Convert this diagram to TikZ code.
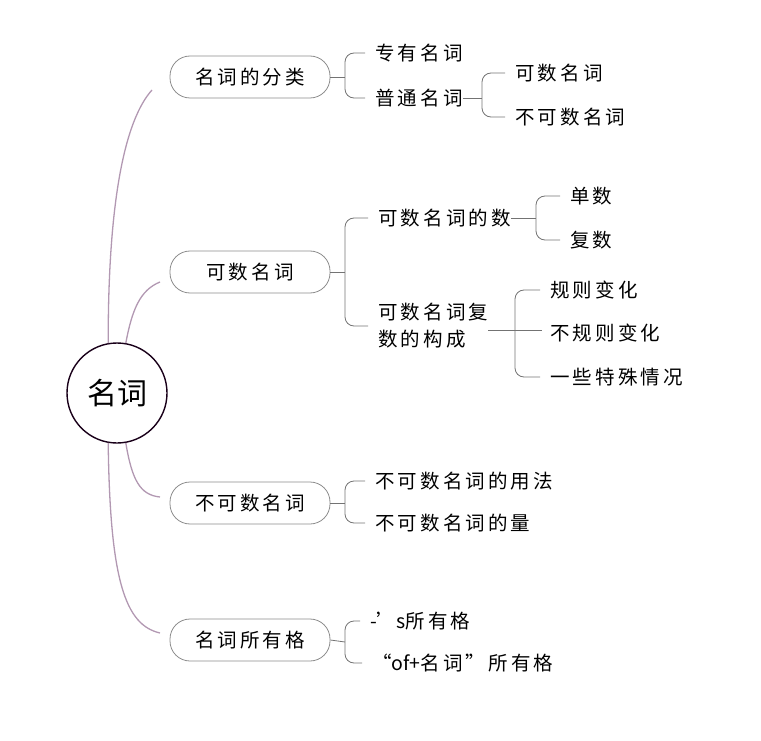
\documentclass[tikz,border=0pt]{standalone}
\usepackage{fontspec}
\usetikzlibrary{calc}
\setmainfont{Noto Sans CJK SC}[LetterSpace=16]
\newfontfamily\rootfont{Noto Sans CJK SC}
\begin{document}
\begin{tikzpicture}[x=1pt,y=-1pt,
  box/.style={draw=black!45,line width=0.8pt,rounded corners=20pt,minimum width=160pt,minimum height=42pt,font=\fontsize{19.5}{21}\selectfont},
  txt/.style={anchor=west,inner sep=0pt,font=\fontsize{19.5}{27}\selectfont,align=left},
  br/.style={draw=black!55,line width=0.8pt,rounded corners=9pt},
  lk/.style={draw=black!55,line width=0.8pt},
  trunk/.style={draw=violet!35!gray!60,line width=1.3pt}]
\useasboundingbox (0,0) rectangle (761,741);
\node[circle,draw=black!80!violet,line width=1.4pt,minimum size=100pt,font=\rootfont\fontsize{30}{32}\selectfont] (root) at (117,393) {名词};
\node[box] (b1) at (250,77) {名词的分类};
\node[box] (b2) at (250,272) {可数名词};
\node[box] (b3) at (250,503) {不可数名词};
\node[box] (b4) at (250,640) {名词所有格};
\draw[trunk] (root.100) .. controls (108,200) and (125,120) .. (152,90);
\draw[trunk] (root.80) .. controls (132,310) and (140,290) .. (160,282);
\draw[trunk] (root.-80) .. controls (132,480) and (140,495) .. (160,497);
\draw[trunk] (root.-100) .. controls (110,580) and (125,625) .. (160,633);
% texts
\node[txt] (t1) at (375,53) {专有名词};
\node[txt] (t2) at (375,98) {普通名词};
\node[txt] (t21) at (515,73) {可数名词};
\node[txt] (t22) at (515,117) {不可数名词};
\node[txt] (t3) at (378,218) {可数名词的数};
\node[txt] (t31) at (570,196) {单数};
\node[txt] (t32) at (570,240) {复数};
\node[txt] (t4) at (378,326) {可数名词复\\数的构成};
\node[txt] (t41) at (550,290) {规则变化};
\node[txt] (t42) at (550,333) {不规则变化};
\node[txt] (t43) at (550,377) {一些特殊情况};
\node[txt] (t5) at (375,481) {不可数名词的用法};
\node[txt] (t6) at (375,523) {不可数名词的量};
\node[txt] (t7) at (370,621) {\addfontfeature{LetterSpace=0}-’s\addfontfeature{LetterSpace=16}所有格};
\node[txt] (t8) at (372,663) {\addfontfeature{LetterSpace=0}“of+\addfontfeature{LetterSpace=16}名词”所有格};
% brackets
\draw[lk] (b1.east) -- (345,77);
\draw[br] ($(t1.west)+(-10,0)$) -- (345,53) -- (345,98) -- ($(t2.west)+(-10,0)$);
\draw[lk] (t2.east) -- (482,98);
\draw[br] ($(t21.west)+(-10,0)$) -- (482,73) -- (482,117) -- ($(t22.west)+(-10,0)$);
\draw[lk] (b2.east) -- (345,272);
\draw[br] ($(t3.west)+(-10,0)$) -- (345,218) -- (345,326) -- ($(t4.west)+(-10,0)$);
\draw[lk] (t3.east) -- (536,218);
\draw[br] ($(t31.west)+(-10,0)$) -- (536,196) -- (536,240) -- ($(t32.west)+(-10,0)$);
\draw[lk] (t4.east |- 330,330) -- (515,330);
\draw[br] ($(t41.west)+(-10,0)$) -- (515,290) -- (515,377) -- ($(t43.west)+(-10,0)$);
\draw[lk] (515,330) -- ($(t42.west)+(-8,-3)$);
\draw[lk] (b3.east) -- (345,503);
\draw[br] ($(t5.west)+(-10,0)$) -- (345,481) -- (345,523) -- ($(t6.west)+(-10,0)$);
\draw[lk] (b4.east) -- (345,642);
\draw[br] ($(t7.west)+(-10,0)$) -- (345,621) -- (345,663) -- ($(t8.west)+(-10,0)$);
\end{tikzpicture}
\end{document}
